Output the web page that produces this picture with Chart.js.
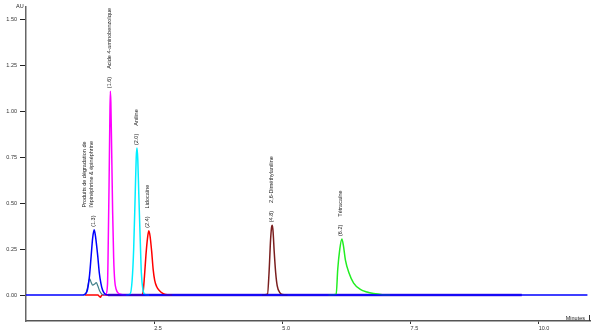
<!DOCTYPE html>
<html>
<head>
<meta charset="utf-8">
<script src="https://cdn.jsdelivr.net/npm/chart.js@4/dist/chart.umd.min.js"></script>
<style>
html,body{margin:0;padding:0;background:#fff;}
#wrap{width:598px;height:331px;position:relative;}
</style>
</head>
<body>
<div id="wrap"><canvas id="c" width="598" height="331"></canvas></div>
<script>
// ---- data (time in minutes, absorbance in AU) ----
const blueT   = [0, 1.12, 1.17, 1.20, 1.24, 1.27, 1.30, 1.33, 1.36, 1.40, 1.43, 1.46, 1.49, 1.53, 1.60, 10.95];
const blueV   = [0, 0, 0.01, 0.03, 0.11, 0.21, 0.31, 0.355, 0.31, 0.21, 0.12, 0.065, 0.03, 0.008, 0, 0];
const tealT   = [1.12, 1.17, 1.20, 1.24, 1.27, 1.30, 1.34, 1.37, 1.40, 1.44, 1.48, 1.53];
const tealV   = [0, 0.01, 0.04, 0.09, 0.07, 0.054, 0.06, 0.067, 0.05, 0.02, 0.005, 0];
const magT    = [1.50, 1.56, 1.59, 1.60, 1.62, 1.635, 1.645, 1.655, 1.67, 1.69, 1.71, 1.73, 1.76, 1.80, 1.86, 1.95];
const magV    = [0, 0.005, 0.06, 0.2, 0.6, 0.95, 1.11, 1.05, 0.8, 0.45, 0.2, 0.08, 0.03, 0.01, 0.003, 0];
const cyanT   = [1.95, 2.03, 2.07, 2.10, 2.13, 2.15, 2.165, 2.18, 2.20, 2.23, 2.25, 2.28, 2.31, 2.40];
const cyanV   = [0, 0.005, 0.08, 0.25, 0.55, 0.75, 0.80, 0.74, 0.55, 0.28, 0.12, 0.03, 0.005, 0];
const redT    = [1.15, 1.40, 1.45, 1.48, 1.55, 2.25, 2.28, 2.31, 2.34, 2.37, 2.395, 2.42, 2.45, 2.48, 2.51, 2.55, 2.60, 2.66, 2.72, 2.85];
const redV    = [0, 0, -0.012, 0, 0, 0, 0.01, 0.10, 0.22, 0.31, 0.35, 0.32, 0.24, 0.14, 0.08, 0.045, 0.025, 0.01, 0.003, 0];
const brownT  = [4.60, 4.71, 4.74, 4.77, 4.79, 4.805, 4.82, 4.84, 4.87, 4.90, 4.95, 5.00, 5.10];
const brownV  = [0, 0.005, 0.12, 0.30, 0.37, 0.38, 0.34, 0.24, 0.12, 0.05, 0.013, 0.003, 0];
const greenT  = [5.90, 6.05, 6.08, 6.12, 6.16, 6.19, 6.23, 6.30, 6.39, 6.52, 6.65, 6.78, 6.95, 7.10];
const greenV  = [0, 0.005, 0.14, 0.25, 0.305, 0.27, 0.19, 0.12, 0.065, 0.031, 0.016, 0.008, 0.002, 0];
const violetT = [1.60, 9.67];
const violetV = [0, 0];

const xTickVals = [2.5, 5.0, 7.5, 10.0];
const yTickVals = [0, 0.25, 0.5, 0.75, 1.0, 1.25, 1.5];

const peakNames = {
  blue:  ["Produits de dégradation de", "l'épinéphrine & épinéphrine"],
  mag:   ["Acide 4-aminobenzoïque"],
  cyan:  ["Aniline"],
  red:   ["Lidocaïne"],
  brown: ["2,6-Diméthylaniline"],
  green: ["Tétracaïne"]
};
const peakRT = { blue: "(1.3)", mag: "(1.6)", cyan: "(2.0)", red: "(2.4)", brown: "(4.8)", green: "(6.2)" };

// ---- build datasets ----
const pts = (t, v) => t.map((x, i) => ({ x: x, y: v[i] }));
function ds(key, t, v, color, order, width) {
  return {
    key: key, data: pts(t, v), borderColor: color, backgroundColor: color,
    borderWidth: width || 1.5, pointRadius: 0, fill: false,
    cubicInterpolationMode: 'monotone', order: order
  };
}
const datasets = [
  ds('blue', blueT, blueV, '#0000ff', 0),
  ds('teal', tealT, tealV, '#3f7f88', 1, 1.2),
  ds('violet', violetT, violetV, '#5a2ad8', 7, 2.5),
  ds('mag', magT, magV, '#ff00ff', 2),
  ds('cyan', cyanT, cyanV, '#00eeff', 3),
  ds('red', redT, redV, '#ff0000', 4),
  ds('brown', brownT, brownV, '#7a1e1e', 5),
  ds('green', greenT, greenV, '#22ee22', 6)
];

const FONT = '"Liberation Sans", Arial, sans-serif';

const annot = {
  id: 'annot',
  afterDatasetsDraw(chart) {
    const ctx = chart.ctx, xs = chart.scales.x, ys = chart.scales.y, ca = chart.chartArea;
    ctx.save();
    ctx.fillStyle = '#222';
    ctx.font = '5.5px ' + FONT;
    chart.data.datasets.forEach(d => {
      if (!peakRT[d.key]) return;
      let best = d.data[0];
      d.data.forEach(p => { if (p.y > best.y) best = p; });
      const px = xs.getPixelForValue(best.x), py = ys.getPixelForValue(best.y);
      ctx.save();
      ctx.translate(px - 1, py - 3);
      ctx.rotate(-Math.PI / 2);
      ctx.textAlign = 'left';
      ctx.textBaseline = 'middle';
      const rt = peakRT[d.key];
      ctx.fillText(rt, 0, 0);
      const w = ctx.measureText(rt).width;
      const names = peakNames[d.key];
      const n = names.length;
      names.forEach((s, i) => {
        const off = (i - (n - 1)) * 6.5 - (n > 1 ? 2 : 0);
        ctx.fillText(s, w + 8, off);
      });
      ctx.restore();
    });
    // axis titles
    ctx.font = '5.5px ' + FONT;
    ctx.textBaseline = 'middle';
    ctx.textAlign = 'left';
    ctx.fillText('AU', 16, 6);
    ctx.textAlign = 'right';
    ctx.fillText('Minutes', ca.right - 5, ca.bottom - 3);
    // end tick of the time axis
    ctx.strokeStyle = '#333';
    ctx.lineWidth = 1;
    ctx.beginPath();
    ctx.moveTo(ca.right - 0.5, ca.bottom);
    ctx.lineTo(ca.right - 0.5, ca.bottom - 6);
    ctx.stroke();
    ctx.restore();
  }
};

new Chart(document.getElementById('c'), {
  type: 'line',
  data: { datasets: datasets },
  options: {
    responsive: false,
    animation: false,
    layout: { padding: { top: 6, right: 8, left: 0, bottom: 0 } },
    plugins: { legend: { display: false }, tooltip: { enabled: false } },
    scales: {
      x: {
        type: 'linear', min: 0, max: 11, position: 'bottom',
        grid: { drawOnChartArea: false, drawTicks: true, tickLength: 3, color: '#333' },
        border: { display: true, color: '#555', width: 1.5 },
        ticks: { align: 'start', padding: 1, color: '#333', font: { size: 5.5, family: FONT },
                 callback: v => Number(v).toFixed(1), maxRotation: 0, autoSkip: false },
        afterBuildTicks: s => { s.ticks = xTickVals.map(v => ({ value: v })); },
        afterFit: s => { s.height = 10; }
      },
      y: {
        type: 'linear', min: -0.1415, max: 1.572,
        grid: { drawOnChartArea: false, drawTicks: true, tickLength: 6, color: '#222' },
        border: { display: true, color: '#666', width: 1.5 },
        ticks: { padding: 3, color: '#333', font: { size: 5.5, family: FONT },
                 callback: v => Number(v).toFixed(2), autoSkip: false },
        afterBuildTicks: s => { s.ticks = yTickVals.map(v => ({ value: v })); },
        afterFit: s => { s.width = 26; }
      }
    }
  },
  plugins: [annot]
});
</script>
</body>
</html>
